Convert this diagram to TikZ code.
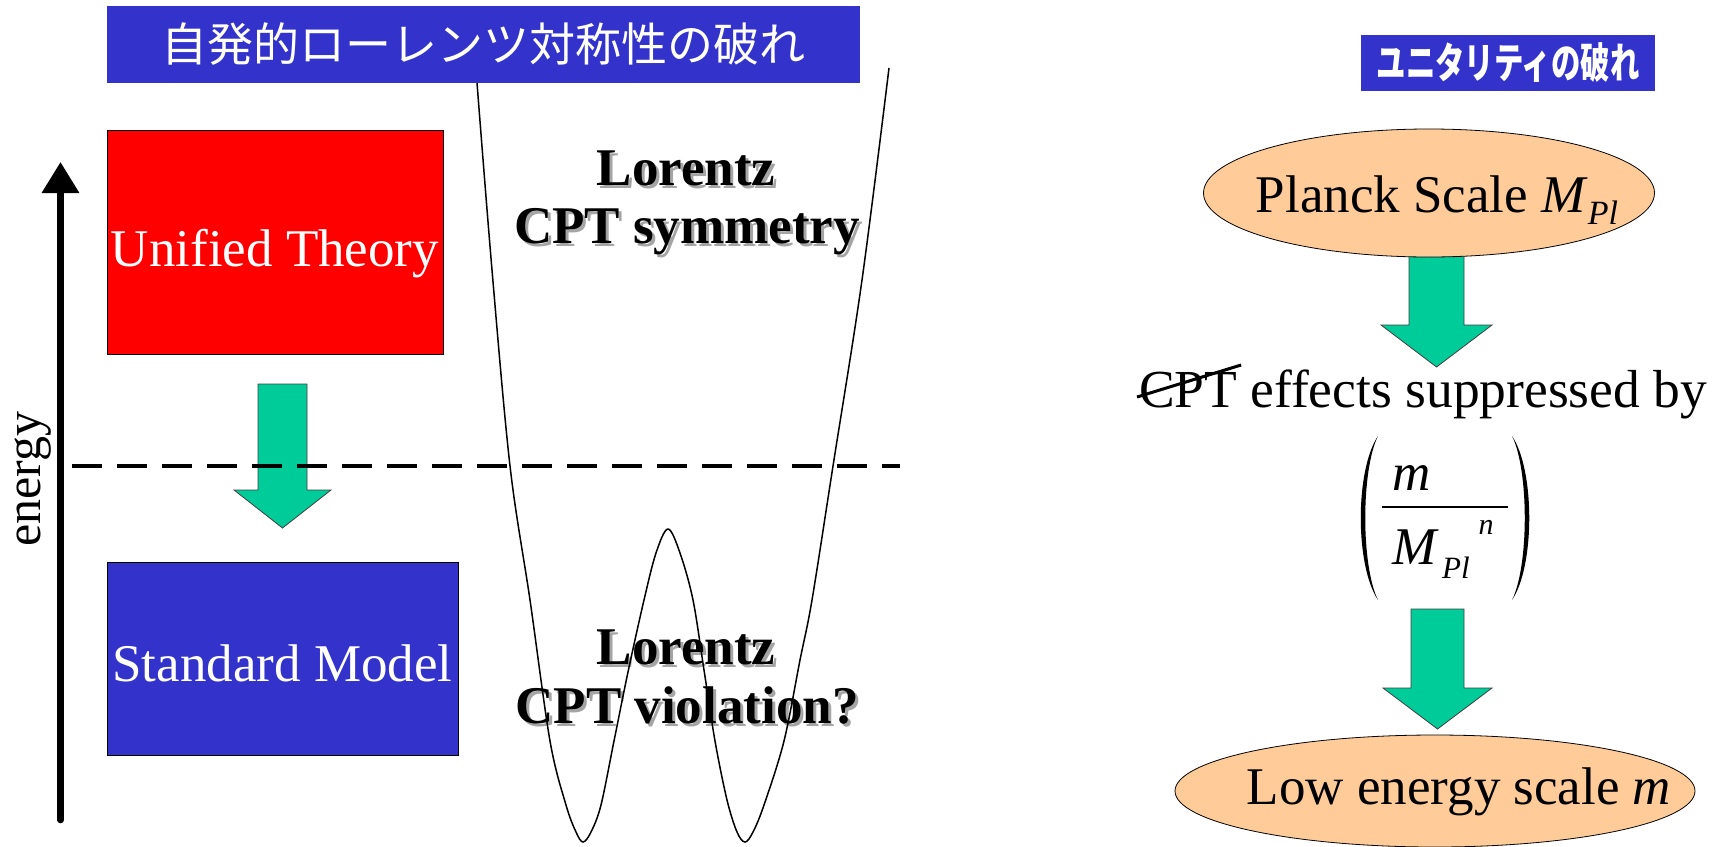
\documentclass[tikz,border=0pt]{standalone}
\usepackage{fontspec}
\usepackage{graphicx}
\setmainfont{Liberation Serif}
\newfontfamily\jpfont{Noto Sans CJK JP}
\usetikzlibrary{shapes.geometric,arrows.meta,calc}

\definecolor{titleblue}{RGB}{51,51,204}
\definecolor{unifiedred}{RGB}{255,0,0}
\definecolor{flowgreen}{RGB}{0,204,153}
\definecolor{peach}{RGB}{255,204,153}
\definecolor{shadowgray}{RGB}{165,165,165}

\begin{document}
\begin{tikzpicture}[x=1pt,y=-1pt,
  every node/.style={inner sep=0pt,outer sep=0pt},
  titlebox/.style={fill=titleblue,text=white,anchor=north west},
  levelbox/.style={draw=black,line width=0.8pt,anchor=north west},
  leveltext/.style={text=white,font=\fontsize{53}{60}\selectfont},
  flowarrow/.style={fill=flowgreen,draw=black!75,line width=0.8pt},
  boldline/.style={anchor=base,font=\fontsize{53}{58}\selectfont\bfseries},
  shadowline/.style={boldline,text=shadowgray},
  scalebubble/.style={ellipse,fill=peach,draw=black,line width=0.8pt},
  bigtext/.style={font=\fontsize{53.5}{60}\selectfont},
  fracitem/.style={anchor=base,font=\fontsize{53}{60}\selectfont\itshape}
]
\useasboundingbox (0,0) rectangle (1726,846);
\fill[white] (0,0) rectangle (1726,846);

% ---------- left panel: energy scales ----------
\coordinate (axisbot) at (60.5,820);
\coordinate (axistop) at (60.5,162);
\draw[line width=6.6pt,line cap=round,-{Triangle[width=36pt,length=31pt]}]
  (axisbot) -- (axistop);
\node[rotate=90,font=\fontsize{50}{50}\selectfont] (energy) at (33,479) {energy};

\node[levelbox,fill=unifiedred,minimum width=336,minimum height=224] (unified)
  at (107,130) {};
\node[leveltext] (unifiedlbl) at ($(unified.center)+(0,12)$) {Unified Theory};
\node[levelbox,fill=titleblue,minimum width=351,minimum height=193] (standard)
  at (107,562) {};
\node[leveltext] (standardlbl) at ($(standard.center)+(0,5)$) {Standard Model};

% breaking arrow between the two levels
\draw[flowarrow] (258,384) -- (307,384) -- (307,490) -- (331,490)
  -- (282.5,528) -- (234,490) -- (258,490) -- cycle;

% scale of the breaking
\coordinate (cutL) at (72,466);
\coordinate (cutR) at (900,466);
\draw[line width=4.5pt,dash pattern=on 30pt off 15pt] (cutL) -- (cutR);

% labels of the potential
\node[shadowline] at (689,188) {Lorentz};
\node[boldline] (symA) at (686,185) {Lorentz};
\node[shadowline] at (690,246) {CPT symmetry};
\node[boldline] (symB) at (687,243) {CPT symmetry};
\node[shadowline] at (689,667) {Lorentz};
\node[boldline] (vioA) at (686,664) {Lorentz};
\node[shadowline] at (690,726) {CPT violation?};
\node[boldline] (vioB) at (687,723) {CPT violation?};

% double-well potential
\draw[line width=1.5pt] plot[smooth,tension=0.55] coordinates {
  (476,70) (492,270) (510,466) (530,600) (550,741) (566,805) (576,832) (583,842)
  (591,832) (601,805) (614,741) (628,672) (644,600) (656,553) (668,529)
  (680,553) (693,600) (704,670) (715,741) (727,800) (737,832) (745,842)
  (753,832) (764,805) (784,741) (800,660) (812,600) (833,466) (862,280) (889,68)};

\node[titlebox,minimum width=753,minimum height=77] (lefttitle) at (107,6)
  {\jpfont\fontsize{46}{46}\selectfont 自発的ローレンツ対称性の破れ};

% ---------- right panel: unitarity breaking ----------
\node[titlebox,minimum width=294,minimum height=56] (righttitle) at (1361,35)
  {\scalebox{0.7}[1]{\jpfont\bfseries\fontsize{42}{42}\selectfont ユニタリティの破れ}};

\draw[flowarrow] (1409,250) -- (1464,250) -- (1464,325) -- (1492,325)
  -- (1436.5,367) -- (1381,325) -- (1409,325) -- cycle;
\node[scalebubble,minimum width=451,minimum height=128] (planck) at (1429,193) {};
\node[font=\fontsize{53}{60}\selectfont] (plancklbl) at (1437,200)
  {Planck Scale \textit{M}\raisebox{-0.22em}{\fontsize{34}{34}\selectfont\itshape Pl}};

\node[bigtext,anchor=base west] (cpt) at (1139,407) {CPT};
\node[bigtext,anchor=base west] (effects) at (cpt.base east) {\ effects suppressed by};
\draw[line width=3pt] ($(cpt.base west)+(-2,-10)$) -- ($(cpt.base east)+(4,-42)$);

% suppression factor
\fill (1378,436) .. controls (1355,470) and (1355,566) .. (1378,600)
  .. controls (1361,566) and (1361,470) .. (1378,436) -- cycle;
\fill (1512,436) .. controls (1535,470) and (1535,566) .. (1512,600)
  .. controls (1529,566) and (1529,470) .. (1512,436) -- cycle;
\node[fracitem] (num) at (1412,490) {m};
\coordinate (barL) at (1382,507);
\coordinate (barR) at (1508,507);
\draw[line width=1.6pt] (barL) -- (barR);
\node[fracitem] (den) at (1415,564) {M};
\node[fracitem,font=\fontsize{31}{31}\selectfont\itshape] (densub) at (1456,578) {Pl};
\node[fracitem,font=\fontsize{30}{30}\selectfont\itshape] (denpow) at (1486,534) {n};

\draw[flowarrow] (1411,609) -- (1464,609) -- (1464,688) -- (1492,688)
  -- (1437.5,729) -- (1383,688) -- (1411,688) -- cycle;
\node[scalebubble,minimum width=520,minimum height=112] (low) at (1435,791) {};
\node[font=\fontsize{53}{60}\selectfont] (lowlbl) at (1459,792)
  {Low energy scale \textit{m}};
\end{tikzpicture}
\end{document}
